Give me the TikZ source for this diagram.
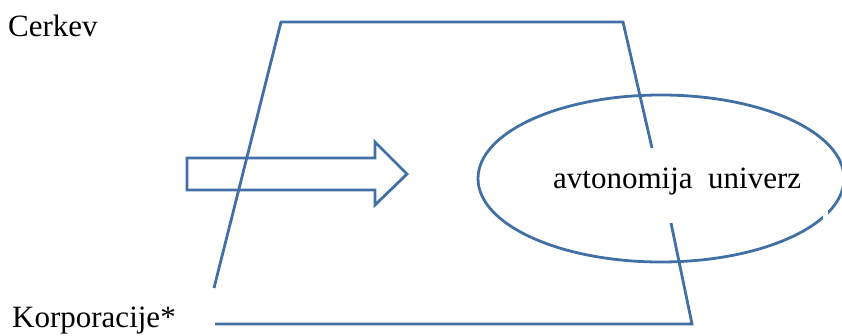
\documentclass[tikz,border=0pt]{standalone}
\usepackage{fontspec}
\setmainfont{Liberation Serif}
\definecolor{edge}{RGB}{66,112,164}
\begin{document}
\begin{tikzpicture}[x=1pt,y=-1pt,
  outline/.style={draw=edge,line width=2.8pt},
  lbl/.style={anchor=base west,inner sep=0pt,font=\fontsize{31}{36}\selectfont,text=black}]
\useasboundingbox (0,0) rectangle (842,336);
% ellipse
\draw[outline] (661,178.5) ellipse [x radius=183, y radius=83.5];
% small gap in the ellipse (hidden by a white box in the original)
\fill[white] (822.5,205) rectangle (828,228);
% block arrow
\draw[outline,line join=miter] (187,158) -- (375,158) -- (375,142) -- (407,174) -- (375,205) -- (375,190) -- (187,190) -- cycle;
% trapezoid
\draw[outline,line join=miter] (214,288) -- (281,22) -- (623,22) -- (652,148);
\draw[outline,line join=miter] (671,223) -- (692,324) -- (215,324);
% texts
\node[lbl] (cerkev) at (8,37) {Cerkev};
\node[lbl] (korp) at (12,327) {Korporacije*};
\node[lbl] (avt) at (553,189) {avtonomija\ \ univerz};
\end{tikzpicture}
\end{document}
